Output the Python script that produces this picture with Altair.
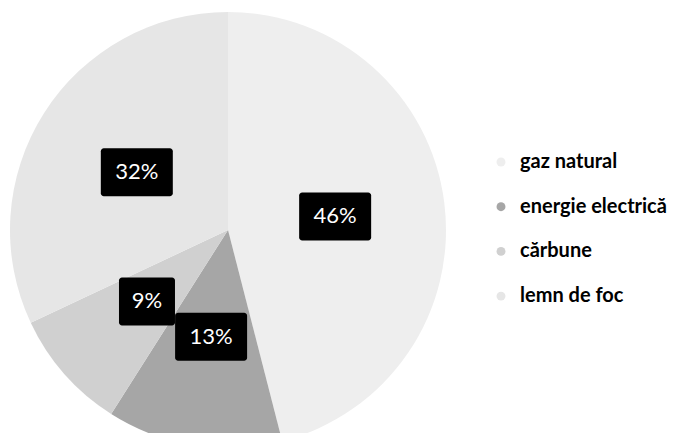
import altair as alt
import pandas as pd

categories = ["gaz natural", "energie electrică", "cărbune", "lemn de foc"]
values = [46, 13, 9, 32]
labels = ["46%", "13%", "9%", "32%"]
colors = ["#eeeeee", "#a6a6a6", "#d0d0d0", "#e6e6e6"]

df = pd.DataFrame({
    "cat": categories,
    "val": values,
    "lab": labels,
    "ord": list(range(len(categories))),
})

W, H = 668, 425
cx, cy, R, LR = 220, 222, 218, 108

arcs = alt.Chart(df).mark_arc(radius=R).encode(
    theta=alt.Theta("val:Q", stack=True),
    order=alt.Order("ord:Q"),
    x=alt.value(cx),
    y=alt.value(cy),
    color=alt.Color(
        "cat:N",
        sort=categories,
        scale=alt.Scale(domain=categories, range=colors),
        legend=alt.Legend(
            title=None,
            orient="none",
            legendX=483,
            legendY=144,
            symbolType="circle",
            symbolSize=80,
            symbolStrokeWidth=0,
            labelFont="Lato",
            labelFontWeight="bold",
            labelFontSize=20,
            labelColor="#000000",
            labelOffset=9,
            rowPadding=24.7,
            labelLimit=300,
        ),
    ),
)

# label positions computed from the cumulative shares (polar -> pixel offsets)
lab_base = alt.Chart(df).transform_joinaggregate(
    total="sum(val)"
).transform_window(
    cum="sum(val)", sort=[alt.SortField("ord")]
).transform_calculate(
    px=f"{LR} * sin((datum.cum - datum.val / 2) / datum.total * 2 * PI)",
    py=f"-{LR} * cos((datum.cum - datum.val / 2) / datum.total * 2 * PI)",
    hw="8 * length(datum.lab) + 12",
).transform_calculate(
    x1="datum.px - datum.hw",
    x2="datum.px + datum.hw",
    y1="datum.py - 24",
    y2="datum.py + 24",
)

xs = alt.Scale(domain=[-cx, W - cx], range=[0, W])
ys = alt.Scale(domain=[-cy, H - cy], range=[0, H])

boxes = lab_base.mark_rect(color="#000000", cornerRadius=3).encode(
    x=alt.X("x1:Q", scale=xs, axis=None),
    x2="x2:Q",
    y=alt.Y("y1:Q", scale=ys, axis=None),
    y2="y2:Q",
)

texts = lab_base.mark_text(
    font="Lato", fontSize=22, color="#ffffff",
    align="center", baseline="middle",
).encode(
    x=alt.X("px:Q", scale=xs, axis=None),
    y=alt.Y("py:Q", scale=ys, axis=None),
    text="lab:N",
)

chart = alt.layer(arcs, boxes, texts).properties(
    width=W, height=H,
    autosize=alt.AutoSizeParams(type="none"),
    padding=0,
).configure_view(stroke=None)

chart.save("out.html", embed_options={"renderer": "svg", "actions": False})
